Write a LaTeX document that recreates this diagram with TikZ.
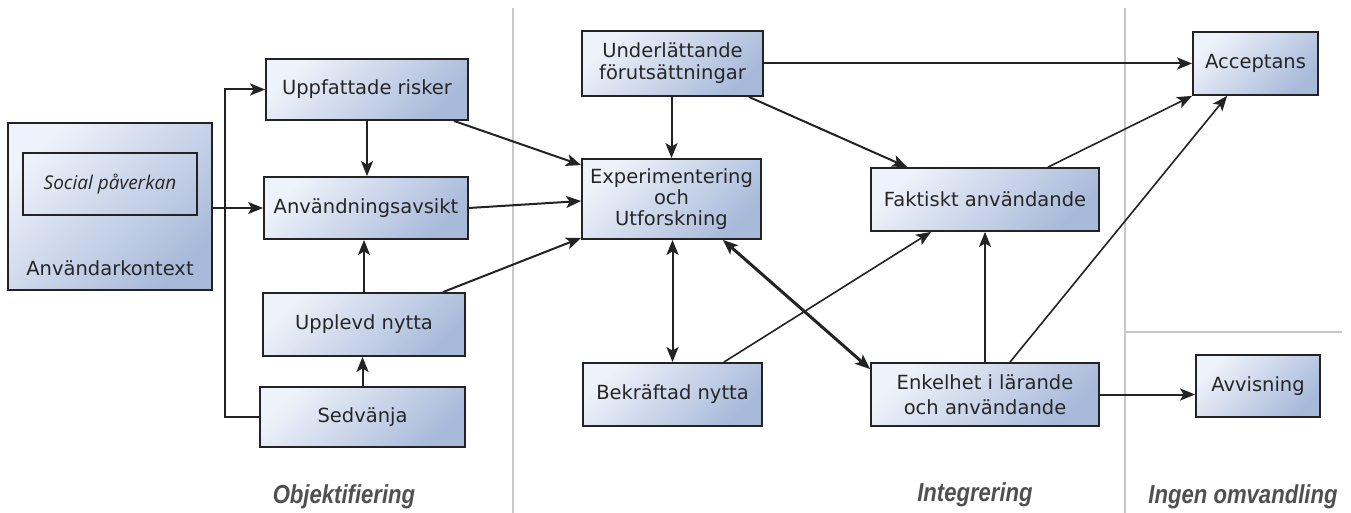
\documentclass[tikz,border=0pt]{standalone}
\usepackage{fontspec}
\setmainfont{DejaVu Sans}
\newfontfamily\phasefont{Liberation Sans}
\newfontfamily\innerfont{Open Sans}
\usetikzlibrary{arrows.meta}

\definecolor{boxlight}{RGB}{238,242,250}
\definecolor{boxdark}{RGB}{168,186,218}
\definecolor{edgecol}{RGB}{35,35,35}
\definecolor{sepgray}{RGB}{200,200,200}
\definecolor{phasegray}{RGB}{80,80,80}

\begin{document}
\begin{tikzpicture}[x=1pt,y=-1pt,
  box/.style={draw=edgecol, line width=1.8pt, left color=boxlight, right color=boxdark,
    shading angle=45, text=black!85, font=\fontsize{19.5}{22}\selectfont,
    align=center, inner sep=0pt},
  innerbox/.style={draw=edgecol, line width=1.8pt, text=black!85, inner sep=0pt,
    font=\innerfont\itshape\fontsize{19}{22}\selectfont},
  plain/.style={text=black!85, font=\fontsize{19.5}{22}\selectfont, inner sep=0pt},
  tip/.tip={Stealth[length=15pt,width=12pt,inset=3.5pt]},
  arr/.style={draw=edgecol, line width=2pt, -tip},
  thinarr/.style={arr, line width=1.6pt},
  botharr/.style={draw=edgecol, line width=2pt, tip-tip},
  sep/.style={draw=sepgray, line width=1.2pt},
  phase/.style={text=phasegray, font=\phasefont\bfseries\itshape\fontsize{26}{30}\selectfont, inner sep=0pt}
]
\useasboundingbox (0,0) rectangle (1351,513);

% phase separators
\draw[sep] (513,8) -- (513,513);
\draw[sep] (1125,8) -- (1125,513);
\draw[sep] (1125,332) -- (1342,332);

% user context
\node[box, minimum width=204pt, minimum height=167pt] (akt) at (110,206.5) {};
\node[innerbox, minimum width=174pt, minimum height=62pt] (soc) at (110,184) {Social påverkan};
\node[plain] (aktlabel) at (110,268) {Användarkontext};

% objectification
\node[box, minimum width=202pt, minimum height=61pt] (risk) at (367,89.5) {Uppfattade risker};
\node[box, minimum width=204pt, minimum height=62pt] (avsikt) at (366,208) {Användningsavsikt};
\node[box, minimum width=202pt, minimum height=63pt] (nytta) at (364,324.5) {Upplevd nytta};
\node[box, minimum width=205pt, minimum height=60pt] (sed) at (362.5,417) {Sedvänja};

% integration
\node[box, minimum width=181pt, minimum height=65pt] (under) at (672.5,63.5) {Underlättande\\förutsättningar};
\node[box, minimum width=179pt, minimum height=80pt, font=\fontsize{19.5}{21}\selectfont] (exp) at (671.5,199) {Experimentering\\och\\Utforskning};
\node[box, minimum width=179pt, minimum height=63pt] (bek) at (672.5,394.5) {Bekräftad nytta};
\node[box, minimum width=228pt, minimum height=63pt] (fak) at (985,199.5) {Faktiskt användande};
\node[box, minimum width=228pt, minimum height=63pt, font=\fontsize{19.5}{25.5}\selectfont] (enk) at (985,394.5) {Enkelhet i lärande\\och användande};

% outcomes
\node[box, minimum width=125pt, minimum height=63pt] (acc) at (1255.5,63.5) {Acceptans};
\node[box, minimum width=124pt, minimum height=62pt] (avv) at (1258,386) {Avvisning};

% connectors, left part
\draw[arr] (sed.west) -- ++(-34,0) |- (risk.west);
\draw[arr] (akt.east |- avsikt.west) -- (avsikt.west);
\draw[arr] (risk.south) -- (risk.south |- avsikt.north);
\draw[arr] (nytta.north) -- (nytta.north |- avsikt.south);
\draw[arr] (sed.north) -- (sed.north |- nytta.south);
\draw[arr] ([xshift=-15pt]risk.south east) -- ([yshift=-7pt]exp.north west);
\draw[arr] (avsikt.east) -- ([yshift=-2pt]exp.west);
\draw[arr] ([xshift=-23pt]nytta.north east) -- ([yshift=2pt]exp.south west);

% connectors, middle part
\draw[arr] (under.south -| exp.north) -- (exp.north);
\draw[arr] ([xshift=-15pt]under.south east) -- ([xshift=37pt]fak.north west);
\draw[arr] (under.east) -- (acc.west);
\draw[botharr] (exp.south -| bek.north) -- (bek.north);
\draw[botharr, line width=3pt] ([xshift=-39pt]exp.south east) -- ([yshift=-7pt]enk.north west);
\draw[thinarr] ([xshift=-39pt]bek.north east) -- ([xshift=61pt]fak.south west);
\draw[arr] (enk.north) -- (fak.south);

% connectors, right part
\draw[thinarr] ([xshift=63pt]fak.north) -- (acc.south west);
\draw[thinarr] ([xshift=25pt]enk.north) -- ([xshift=35pt]acc.south west);
\draw[arr] (enk.east) -- (enk.east -| avv.west);

% phase labels
\node[phase] (lobj) at (344,497) {\scalebox{0.85}[1]{Objektifiering}};
\node[phase] (lint) at (975,495) {\scalebox{0.85}[1]{Integrering}};
\node[phase] (ling) at (1243,497) {\scalebox{0.85}[1]{Ingen omvandling}};
\end{tikzpicture}
\end{document}
